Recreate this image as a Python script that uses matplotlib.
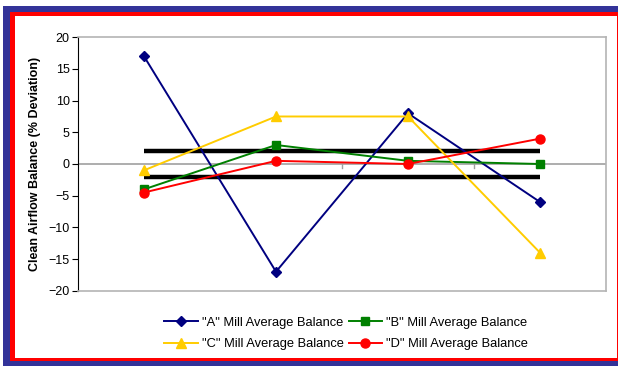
import numpy as np
import matplotlib.pyplot as plt
from matplotlib.patches import Rectangle

plt.rcParams['font.family'] = ['Liberation Sans', 'DejaVu Sans']

# mill balance readings, one per test point
points = np.arange(4)
mill_a = [17, -17, 8, -6]
mill_b = [-4, 3, 0.5, 0]
mill_c = [-1, 7.5, 7.5, -14]
mill_d = [-4.5, 0.5, 0, 4]
band = [2, -2]
labels = ['"A" Mill Average Balance', '"B" Mill Average Balance',
          '"C" Mill Average Balance', '"D" Mill Average Balance']

W, H = 618, 366
fig = plt.figure(figsize=(W / 100, H / 100), dpi=100)

def px_rect(x0, y0, x1, y1, color):
    fig.add_artist(Rectangle((x0 / W, 1 - y1 / H), (x1 - x0) / W, (y1 - y0) / H,
                             transform=fig.transFigure, color=color, lw=0, zorder=-10))

# framed border
px_rect(3, 6, 640, 380, '#333399')
px_rect(10, 12, 618, 361, '#ff0000')
px_rect(15, 16, 616.5, 357.5, 'white')

ax = fig.add_axes([78 / W, 1 - 290.7 / H, (606 - 78) / W, (290.7 - 37.3) / H])
ax.set_facecolor('none')

ax.set_xlim(-0.5, 3.5)
ax.set_ylim(-20, 20)
ax.set_yticks(np.arange(-20, 21, 5))
ax.set_xticks([])
ax.tick_params(axis='y', labelsize=9, length=4, width=0.8, pad=2)

for side in ['top', 'right', 'bottom']:
    ax.spines[side].set_color('#b4b4b4')
    ax.spines[side].set_linewidth(1.2)
ax.spines['left'].set_color('black')
ax.spines['left'].set_linewidth(0.8)

# zero line with category boundary ticks
ax.axhline(0, color='#a0a0a0', lw=1.2, zorder=1)
for b in [0.5, 1.5, 2.5]:
    ax.plot([b, b], [0, -0.6], color='#a0a0a0', lw=1.0, zorder=1)

# tolerance band
for y in band:
    ax.plot([points[0], points[-1]], [y, y], color='black', lw=3.2, zorder=2,
            solid_capstyle='butt')

ax.plot(points, mill_a, color='#000080', marker='D', ms=5, lw=1.4, label=labels[0], zorder=3)
ax.plot(points, mill_b, color='#008000', marker='s', ms=5.5, lw=1.4, label=labels[1], zorder=3)
ax.plot(points, mill_c, color='#ffcc00', marker='^', ms=6.5, lw=1.4, label=labels[2], zorder=3)
ax.plot(points, mill_d, color='#ff0000', marker='o', ms=6.5, lw=1.4, label=labels[3], zorder=3)

ax.set_ylabel('Clean Airflow Balance (% Deviation)', fontsize=9, fontweight='bold', labelpad=5)

handles, lbls = ax.get_legend_handles_labels()
order = [0, 2, 1, 3]
fig.legend([handles[i] for i in order], [lbls[i] for i in order],
           loc='center', bbox_to_anchor=(346 / W, 1 - 333.5 / H), ncol=2,
           frameon=False, fontsize=9.3, handlelength=2.6, handletextpad=0.3,
           columnspacing=0.4, labelspacing=0.7, borderaxespad=0)

fig.savefig('out.png', dpi=100)
